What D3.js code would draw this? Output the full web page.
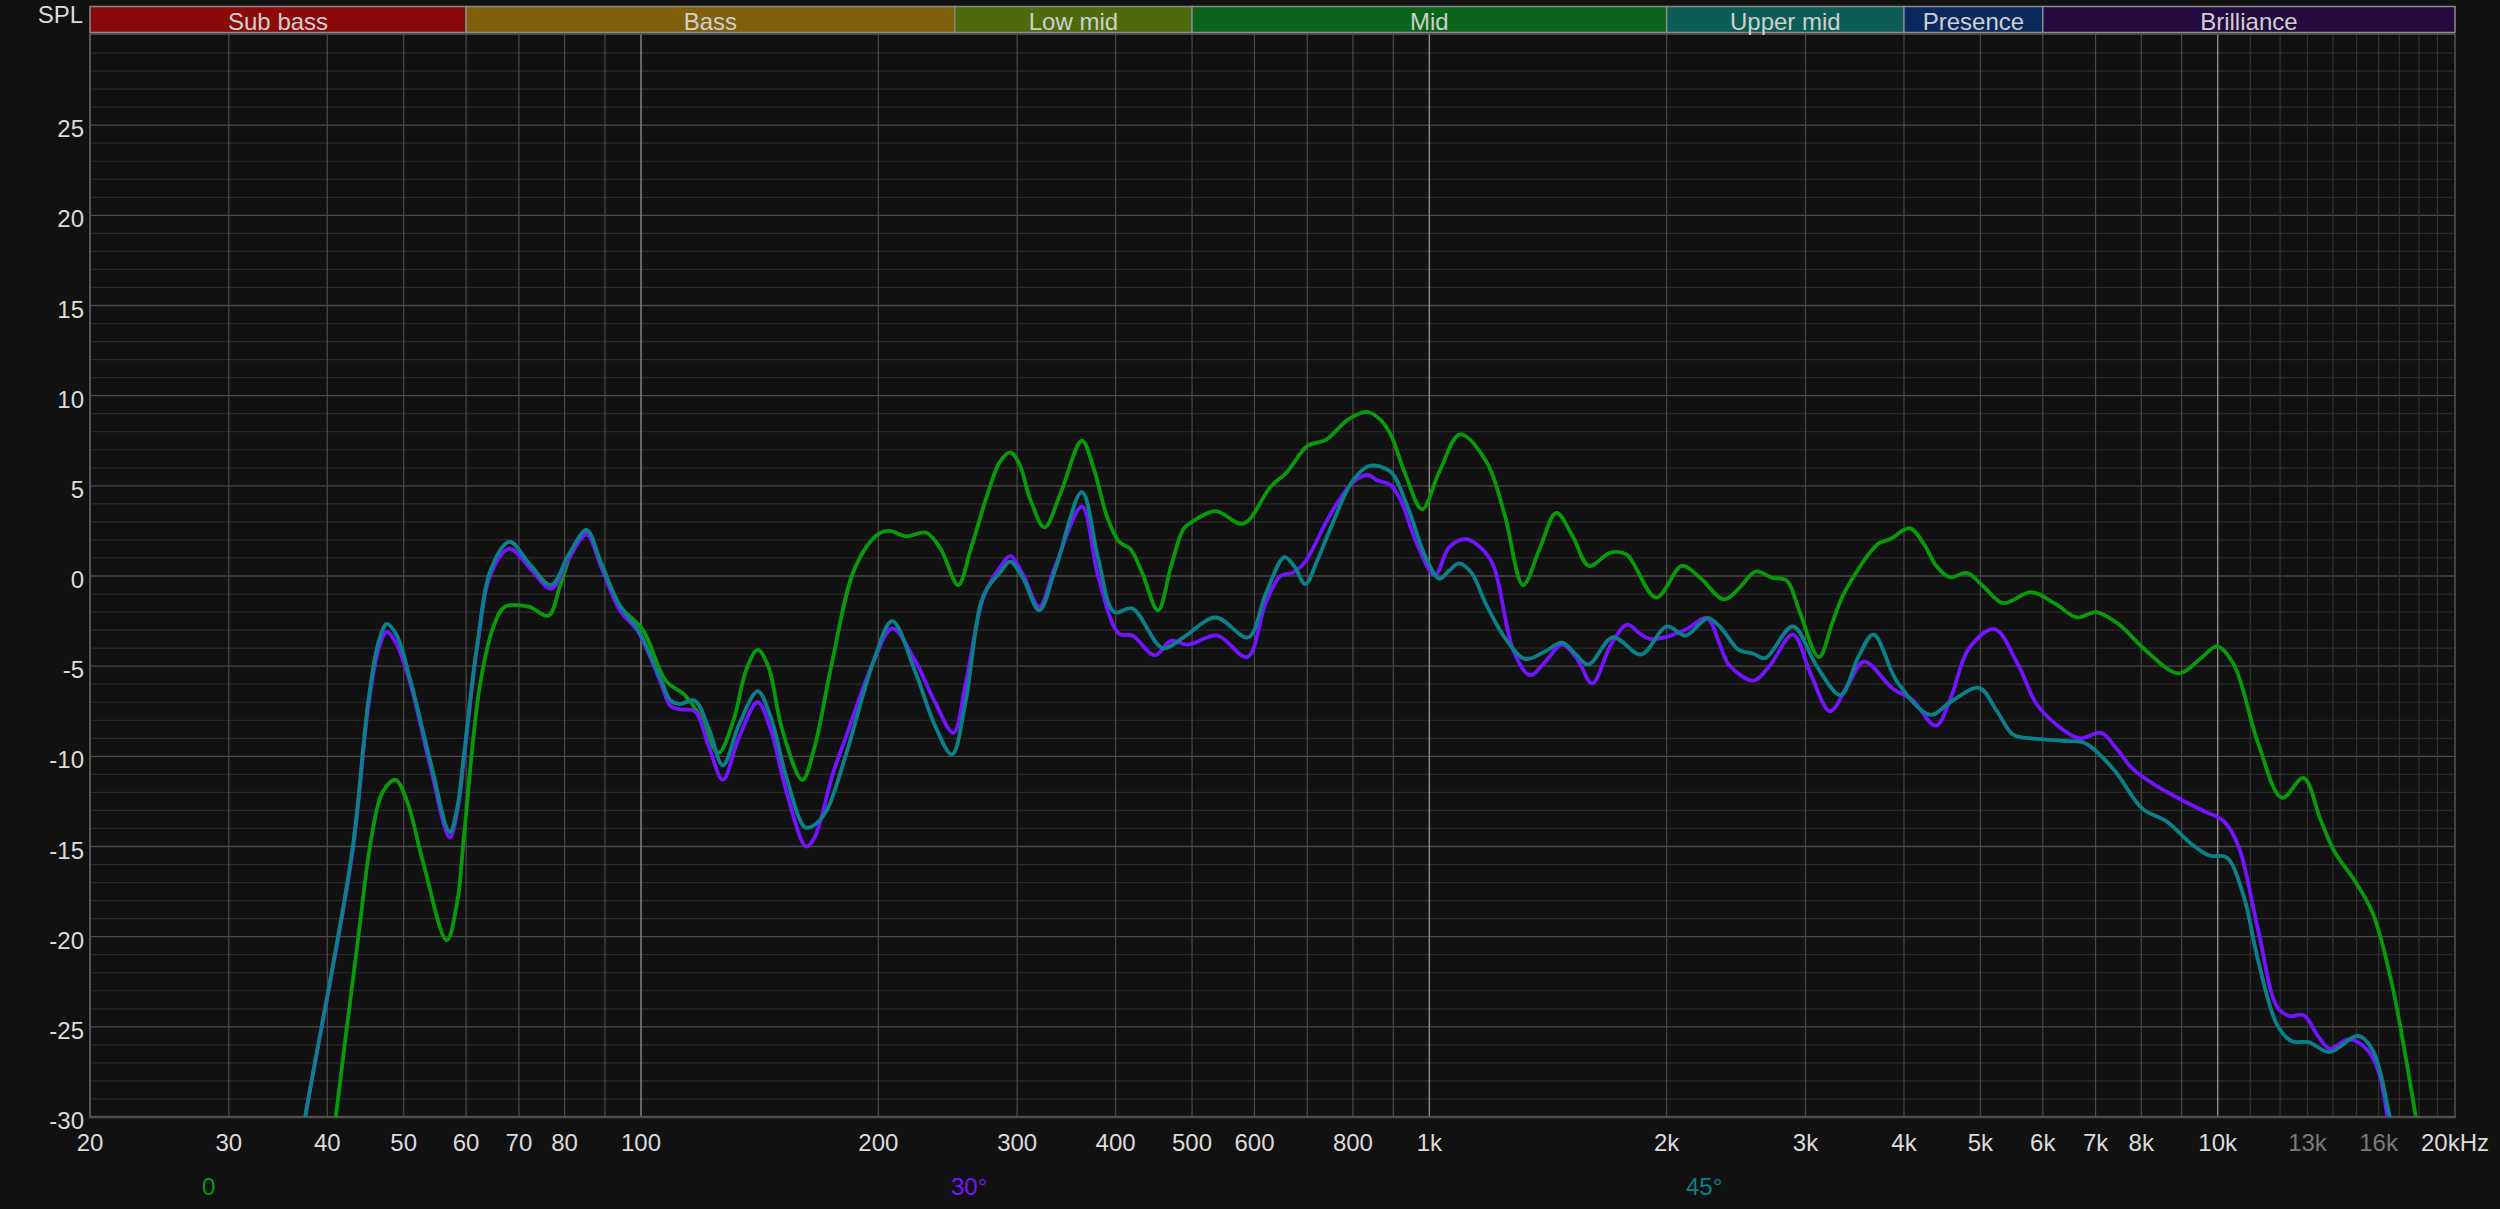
<!DOCTYPE html>
<html>
<head>
<meta charset="utf-8">
<script src="https://cdn.jsdelivr.net/npm/d3@7/dist/d3.min.js"></script>
<style>
  html, body { margin: 0; padding: 0; background: #111111; }
  svg { display: block; }
  text { font-family: "Liberation Sans", Arial, sans-serif; }
</style>
</head>
<body>
<svg id="chart" width="2500" height="1209"></svg>
<script>
// ---------------- DATA ----------------
const seriesNames = ["0", "30°", "45°"];
const seriesColors = ["#099a09", "#7414ff", "#0b8088"];

const freq0 = [39.5, 41, 43.8, 45.5, 47, 48.8, 50.5, 53, 56.7, 58.5, 59.6, 62.4, 65, 67.2, 72, 76.3, 79, 82, 85.3, 89, 94, 100.6, 107.5, 113.6, 118.5, 125.4, 131, 136, 140.6, 145, 151, 160.2, 166, 174.7, 186.8, 199.7, 206.5, 217, 230, 240, 252.5, 262, 274.5, 285, 294, 302, 312, 325, 340, 362.5, 375, 390, 404, 417.7, 432, 452.7, 470, 487.6, 500, 535.7, 580.6, 629, 659.6, 700, 739, 790, 834, 865, 892, 935, 979, 1030, 1094, 1181, 1246, 1315, 1380, 1449, 1520, 1594, 1697, 1778, 1939, 2092, 2205, 2366, 2480, 2594, 2724, 2840, 2950, 3120, 3250, 3367, 3713, 3845, 4066, 4250, 4389, 4577, 4807, 5050, 5338, 5808, 6227, 6632, 7016, 7476, 8140, 8920, 9500, 9981, 10480, 11250, 12070, 12850, 13500, 14070, 14870, 15730, 16650, 17840, 18500];
const spl0 = [-36, -30, -20, -14.5, -12, -11.3, -12.5, -16, -20.2, -18, -14.5, -6.2, -2.8, -1.7, -1.7, -2.2, -0.5, 1.5, 2.4, 0.7, -1.65, -3.0, -5.8, -6.6, -7.7, -9.8, -8, -5.2, -4.1, -5, -8.5, -11.3, -9.5, -4.8, 0.45, 2.3, 2.5, 2.2, 2.4, 1.5, -0.5, 1.5, 4.4, 6.3, 6.85, 6.2, 4.2, 2.7, 4.5, 7.5, 6.0, 3.3, 1.9, 1.5, 0.2, -1.9, 0.5, 2.6, 3.0, 3.6, 2.9, 4.95, 5.75, 7.2, 7.55, 8.7, 9.1, 8.7, 7.9, 5.5, 3.7, 5.8, 7.85, 6.35, 3.4, -0.5, 1.5, 3.5, 2.2, 0.56, 1.3, 1.2, -1.2, 0.56, -0.1, -1.3, -0.6, 0.25, -0.1, -0.25, -2.0, -4.5, -2.5, -0.85, 1.8, 2.05, 2.65, 1.7, 0.6, -0.07, 0.17, -0.6, -1.5, -0.9, -1.55, -2.3, -2.0, -2.65, -4.2, -5.4, -4.6, -3.9, -4.9, -9.25, -12.3, -11.2, -13.5, -15.3, -16.8, -18.7, -22.7, -30, -34];

const freq30 = [35, 37.5, 43, 45.1, 46.5, 47.6, 49, 51, 54, 57.2, 58.5, 59.6, 62, 64.6, 68.1, 72.4, 76.9, 81, 85.3, 89, 94, 99.2, 106.1, 109, 112, 117, 122, 127, 133, 140.6, 146, 153, 162, 166, 175, 181.7, 197, 208.3, 222.7, 236, 249, 258, 271.8, 285.5, 294, 305, 320, 335, 362.5, 380, 404, 420, 448.5, 470, 494, 539, 587, 620, 647, 672, 696, 748.5, 800, 834, 860, 892, 920, 960, 1016, 1060, 1111, 1160, 1205, 1280, 1342, 1400, 1474, 1540, 1609, 1700, 1783, 1850, 1912, 2000, 2113, 2249, 2336, 2397, 2575, 2700, 2891, 3050, 3222, 3400, 3560, 3872, 4096, 4389, 4577, 4838, 5209, 5580, 5892, 6227, 6679, 7116, 7450, 7804, 8371, 8984, 9620, 10180, 10630, 11250, 11900, 12330, 12850, 13400, 13860, 14670, 15500, 16000, 16420, 17000];
const spl30 = [-38, -30, -15.5, -7.2, -4.0, -3.1, -3.8, -6, -10.5, -14.5, -13, -10.2, -3.9, 0.2, 1.5, 0.4, -0.7, 1.0, 2.3, 0.5, -1.9, -3.1, -6.0, -7.2, -7.4, -7.5, -9.5, -11.3, -9.0, -7.0, -8.5, -12, -15.0, -14.5, -11, -9.0, -4.8, -2.9, -4.7, -7, -8.7, -6, -1.2, 0.5, 1.1, 0.1, -1.7, 0.5, 3.85, 0, -3.2, -3.3, -4.4, -3.6, -3.8, -3.3, -4.5, -1.5, 0.0, 0.2, 0.8, 3.4, 5.2, 5.6, 5.3, 5.06, 4.2, 2, 0.04, 1.6, 2.04, 1.6, 0.6, -4.2, -5.5, -4.8, -3.8, -4.6, -5.95, -3.8, -2.7, -3.2, -3.5, -3.37, -2.98, -2.34, -3.8, -4.9, -5.8, -5.0, -3.25, -5.5, -7.5, -6, -4.75, -6.25, -6.85, -8.3, -6.85, -4.0, -2.95, -4.9, -7.1, -8.2, -9.0, -8.7, -9.6, -10.7, -11.65, -12.4, -13.05, -13.6, -15.0, -19.6, -23.9, -24.4, -24.35, -25.5, -26.2, -25.7, -26.3, -27.5, -30, -34];

const freq45 = [35, 37.5, 43, 45.1, 46.5, 47.6, 49, 51, 54, 57.2, 58.5, 59.6, 62, 64.6, 68.1, 72.4, 76.9, 81, 85.3, 89, 94, 99.2, 106.1, 109, 112.1, 116.9, 122, 127, 133, 140.6, 146, 153, 161.6, 166, 172, 181.7, 197, 208.3, 222.7, 236, 248, 258, 271.8, 285.5, 294, 305, 320, 335, 362.5, 380, 398.5, 420, 459, 487.6, 535.7, 589, 620, 655, 675, 696, 720, 748.5, 800, 838.6, 892, 939, 990, 1030, 1060, 1090, 1130, 1181, 1250, 1322, 1400, 1474, 1530, 1592, 1709, 1856, 2000, 2113, 2205, 2255, 2336, 2469, 2575, 2667, 2891, 3100, 3323, 3500, 3659, 3925, 4321, 4577, 4979, 5250, 5500, 5808, 6402, 6772, 7373, 8026, 8611, 9228, 9754, 10260, 10780, 11250, 11900, 12420, 13040, 13860, 15080, 15730, 16530, 17000];
const spl45 = [-38, -30, -15.3, -6.9, -3.6, -2.65, -3.3, -5.8, -10.2, -14.2, -12.8, -10.0, -3.75, 0.45, 1.9, 0.6, -0.5, 1.2, 2.55, 0.7, -1.65, -3.0, -5.8, -6.9, -7.1, -6.9, -8.5, -10.5, -8.3, -6.4, -7.8, -11.2, -13.95, -13.8, -13, -10.0, -4.8, -2.5, -5.3, -8.3, -9.9, -7, -1.1, 0.2, 0.8, -0.1, -1.9, 0.3, 4.65, 1, -2.0, -1.8, -4.0, -3.4, -2.3, -3.4, -1.0, 1.05, 0.5, -0.45, 0.8, 2.6, 5.3, 6.1, 5.8, 3.8, 1, -0.15, 0.3, 0.7, 0.2, -1.6, -3.5, -4.6, -4.2, -3.7, -4.3, -4.9, -3.4, -4.35, -2.8, -3.3, -2.64, -2.33, -2.8, -4.1, -4.3, -4.55, -2.8, -5.0, -6.6, -4.5, -3.25, -5.9, -7.7, -7.0, -6.2, -7.5, -8.8, -9.0, -9.15, -9.25, -10.7, -12.9, -13.6, -14.8, -15.5, -15.6, -17.7, -21.3, -24.9, -25.8, -25.85, -26.4, -25.5, -26.3, -30, -33];

const bandNames = ["Sub bass", "Bass", "Low mid", "Mid", "Upper mid", "Presence", "Brilliance"];
const bandEdges = [20, 60, 250, 500, 2000, 4000, 6000, 20000];
const bandColors = ["#8a0a0a", "#80600a", "#4e6b0c", "#0a641a", "#0b5c55", "#0a2a5e", "#240a3e"];

const yTicks = [25, 20, 15, 10, 5, 0, -5, -10, -15, -20, -25, -30];
const xTickValues = [20, 30, 40, 50, 60, 70, 80, 100, 200, 300, 400, 500, 600, 800, 1000, 2000, 3000, 4000, 5000, 6000, 7000, 8000, 10000, 13000, 16000, 20000];
const xTickLabels = ["20", "30", "40", "50", "60", "70", "80", "100", "200", "300", "400", "500", "600", "800", "1k", "2k", "3k", "4k", "5k", "6k", "7k", "8k", "10k", "13k", "16k", "20kHz"];
const xTickDim = ["13k", "16k"];
const legendX = [202, 951, 1686];

// ---------------- LAYOUT ----------------
const L = 90, R = 2455, T = 35, B = 1117;
const svg = d3.select("#chart");
const x = d3.scaleLog().domain([20, 20000]).range([L, R]);
const y = d3.scaleLinear().domain([-30, 30]).range([B, T]);

// grid frequencies (every integer multiple within each decade)
const gridFreqs = [];
[10, 100, 1000, 10000].forEach(dec => {
  for (let m = 1; m <= 9; m++) {
    const f = dec * m;
    if (f > 20 && f < 20000) gridFreqs.push(f);
  }
});
for (let f = 11000; f < 20000; f += 1000) gridFreqs.push(f);

const grid = svg.append("g");
grid.selectAll("line.hmin").data(d3.range(-29, 30).filter(v => v % 5 !== 0))
  .join("line").attr("x1", L).attr("x2", R)
  .attr("y1", d => y(d)).attr("y2", d => y(d))
  .attr("stroke", "#2a2a2a").attr("stroke-width", 1.2);
grid.selectAll("line.hmaj").data(d3.range(-25, 30, 5))
  .join("line").attr("x1", L).attr("x2", R)
  .attr("y1", d => y(d)).attr("y2", d => y(d))
  .attr("stroke", "#4a4a4a").attr("stroke-width", 1.4);
const isDecade = d => d === 100 || d === 1000 || d === 10000;
grid.selectAll("line.v").data(gridFreqs)
  .join("line")
  .attr("x1", d => x(d)).attr("x2", d => x(d))
  .attr("y1", T - 1).attr("y2", B)
  .attr("stroke", d => isDecade(d) ? "#8c8c8c" : (d > 10000 ? "#323232" : "#4a4a4a"))
  .attr("stroke-width", d => isDecade(d) ? 1.4 : 1.2);

// frame
svg.append("line").attr("x1", L).attr("x2", R).attr("y1", T - 1).attr("y2", T - 1).attr("stroke", "#555").attr("stroke-width", 1.5);
svg.append("line").attr("x1", R).attr("x2", R).attr("y1", T - 1).attr("y2", B).attr("stroke", "#555").attr("stroke-width", 1.5);
svg.append("line").attr("x1", L).attr("x2", L).attr("y1", T - 1).attr("y2", B + 1).attr("stroke", "#555").attr("stroke-width", 2);
svg.append("line").attr("x1", L - 1).attr("x2", R + 1).attr("y1", B).attr("y2", B).attr("stroke", "#4f4f4f").attr("stroke-width", 2.5);

// band header
const bands = bandNames.map((n, i) => ({ name: n, f0: bandEdges[i], f1: bandEdges[i + 1], color: bandColors[i] }));
const bg = svg.append("g");
bg.selectAll("rect").data(bands).join("rect")
  .attr("x", d => x(d.f0)).attr("width", d => x(d.f1) - x(d.f0))
  .attr("y", 6.5).attr("height", 26)
  .attr("fill", d => d.color).attr("stroke", "#8a8a8a").attr("stroke-width", 1.5);
bg.selectAll("text").data(bands).join("text")
  .attr("x", d => (x(d.f0) + x(d.f1)) / 2).attr("y", 29.5)
  .attr("text-anchor", "middle").attr("font-size", 24).attr("fill", "#cfcfcf")
  .text(d => d.name);

svg.append("text").attr("x", 83).attr("y", 23).attr("text-anchor", "end")
  .attr("font-size", 24).attr("fill", "#dcdcdc").text("SPL");

svg.append("g").selectAll("text").data(yTicks).join("text")
  .attr("x", 84).attr("y", d => y(d) + 12).attr("text-anchor", "end")
  .attr("font-size", 24).attr("fill", "#dcdcdc").text(d => d);

svg.append("g").selectAll("text").data(xTickValues).join("text")
  .attr("x", (d) => x(d)).attr("y", 1151).attr("text-anchor", "middle")
  .attr("font-size", 24)
  .attr("fill", (d, i) => xTickDim.includes(xTickLabels[i]) ? "#7a7a7a" : "#dcdcdc")
  .text((d, i) => xTickLabels[i]);

// curves
svg.append("clipPath").attr("id", "plotclip").append("rect")
  .attr("x", L).attr("y", T - 1).attr("width", R - L).attr("height", B - T + 1);

const series = [
  { f: freq0, v: spl0 },
  { f: freq30, v: spl30 },
  { f: freq45, v: spl45 }
];
const line = d3.line().x(d => x(d[0])).y(d => y(d[1])).curve(d3.curveCatmullRom.alpha(0.5));
svg.append("g").attr("clip-path", "url(#plotclip)")
  .selectAll("path").data(series).join("path")
  .attr("d", s => line(s.f.map((f, i) => [f, s.v[i]])))
  .attr("fill", "none")
  .attr("stroke", (s, i) => seriesColors[i])
  .attr("stroke-width", 3.8)
  .attr("stroke-linejoin", "round").attr("stroke-linecap", "round");

svg.append("g").selectAll("text").data(seriesNames).join("text")
  .attr("x", (d, i) => legendX[i]).attr("y", 1195)
  .attr("font-size", 24).attr("fill", (d, i) => seriesColors[i])
  .text(d => d);
</script>
</body>
</html>
